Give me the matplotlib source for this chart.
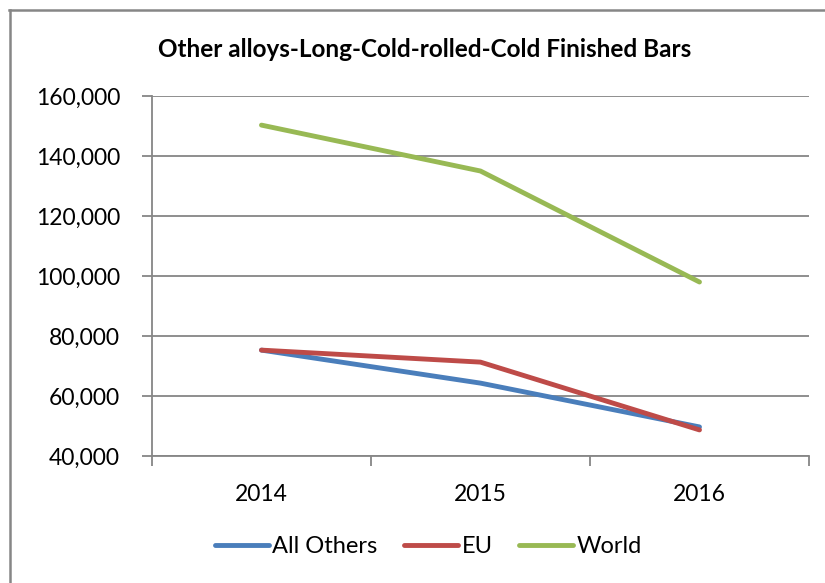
import matplotlib.pyplot as plt
from matplotlib.lines import Line2D
from matplotlib.ticker import FuncFormatter

plt.rcParams['font.family'] = ['Lato', 'DejaVu Sans']

years = ['2014', '2015', '2016']
all_others = [75300, 64300, 49700]
eu = [75300, 71300, 48700]
world = [150300, 135000, 98000]

fig = plt.figure(figsize=(8.25, 5.83), dpi=100)
ax = fig.add_axes([0.1842, 0.2178, 0.7964, 0.6175])

x = range(len(years))
ax.plot(x, all_others, color='#4a7ebb', lw=3.5, solid_capstyle='round', label='All Others')
ax.plot(x, eu, color='#be4b48', lw=3.5, solid_capstyle='round', label='EU')
ax.plot(x, world, color='#98b954', lw=3.5, solid_capstyle='round', label='World')

ax.set_xlim(-0.5, 2.5)
ax.set_ylim(40000, 160000)
ax.set_yticks(range(40000, 160001, 20000))
ax.yaxis.set_major_formatter(FuncFormatter(lambda v, p: f'{int(v):,}'))
ax.set_xticks(list(x))
ax.set_xticklabels(years)
ax.set_xticks([-0.5, 0.5, 1.5, 2.5], minor=True)

ax.grid(axis='y', color='#868686', lw=1.3)
ax.set_axisbelow(True)
for s in ['top', 'right']:
    ax.spines[s].set_visible(False)
for s in ['left', 'bottom']:
    ax.spines[s].set_color('#868686')
    ax.spines[s].set_linewidth(1.3)

ax.tick_params(axis='y', length=7, width=1.3, color='#868686', labelsize=16.5, pad=16)
ax.tick_params(axis='x', which='major', length=0, labelsize=16.5, pad=20)
ax.tick_params(axis='x', which='minor', length=7, width=1.3, color='#868686')

fig.text(0.515, 0.915, 'Other alloys-Long-Cold-rolled-Cold Finished Bars',
         ha='center', va='center', fontsize=17.5, fontweight='bold')

fig.legend(loc='center', bbox_to_anchor=(0.519, 0.063), ncol=3, frameon=False,
           fontsize=17, handlelength=2.3, handletextpad=0.15, columnspacing=1.1)

# outer chart border
fig.add_artist(Line2D([0.0121, 0.0121], [0.0, 0.982], color='#868686', lw=1.8))
fig.add_artist(Line2D([0.0115, 1.0], [0.982, 0.982], color='#868686', lw=1.8))

fig.savefig('out.png')
